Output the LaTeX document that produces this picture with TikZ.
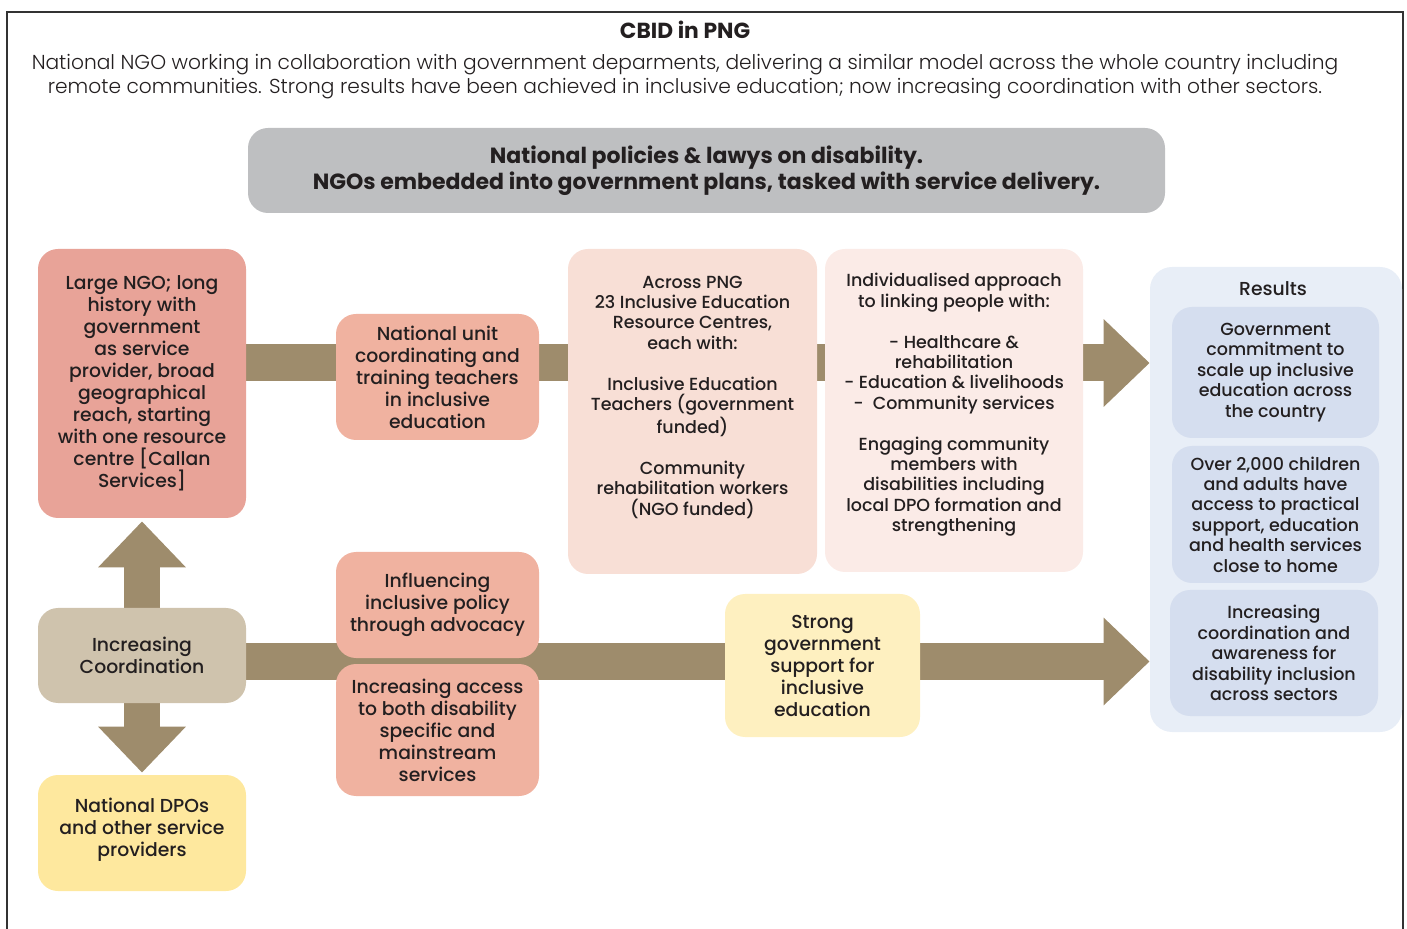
\documentclass[tikz,border=0pt]{standalone}
\usepackage{fontspec}
\setmainfont{Poppins}
\newfontface\lightface{Poppins Light}
\newfontface\mediumface{Poppins Medium}
\usetikzlibrary{arrows.meta,backgrounds,calc}
\definecolor{txt}{HTML}{231F20}
\definecolor{frame}{HTML}{333333}
\definecolor{barc}{HTML}{9E8C6C}
\definecolor{ngored}{HTML}{E8A398}
\definecolor{salmon}{HTML}{F0B2A0}
\definecolor{peach}{HTML}{F8DFD6}
\definecolor{blush}{HTML}{FBEBE7}
\definecolor{bannergrey}{HTML}{BEBFC1}
\definecolor{sand}{HTML}{CFC3AD}
\definecolor{dpoyellow}{HTML}{FEE89E}
\definecolor{paleyellow}{HTML}{FEF0C0}
\definecolor{resbg}{HTML}{E8EEF7}
\definecolor{resbox}{HTML}{D5DEEF}

\begin{document}
\begin{tikzpicture}[x=0.5pt,y=-0.5pt,
    box/.style={rounded corners=10pt, align=center, inner sep=2pt, text=txt,
        font=\mediumface\fontsize{9.4}{11}\selectfont},
    smallbox/.style={box, font=\mediumface\fontsize{8.75}{10.2}\selectfont},
    sz/.style 2 args={minimum width=#1, minimum height=#2},
    bar/.style={line width=18.5pt, draw=barc, -{Triangle[length=23pt,width=42.5pt]}}]
    \useasboundingbox (0,0) rectangle (1407,929);
    % frame and heading
    \draw [frame, line width=1pt] (7,940) -- (7,12) -- (1403,12) -- (1403,940);
    \node [text=txt, font=\bfseries\fontsize{10.9}{12}\selectfont] (title) at (685,30) {CBID in PNG};
    \node [text=txt, align=center, font=\lightface\fontsize{10.1}{12}\selectfont] (intro) at (685,77)
        {National NGO working in collaboration with government deparments, delivering a similar model across the whole country including\\
         remote communities. Strong results have been achieved in inclusive education; now increasing coordination with other sectors.};
    \node [box, fill=bannergrey, sz={458.5pt}{42.5pt}, font=\bfseries\fontsize{11}{13}\selectfont] (policy) at (706.5,170.5)
        {National policies \& lawys on disability.\\NGOs embedded into government plans, tasked with service delivery.};

    % top row
    \node [box, fill=ngored, sz={104pt}{134.5pt}] (ngo) at (142,383.5)
        {Large NGO; long\\history with\\government\\as service\\provider, broad\\geographical\\reach, starting\\with one resource\\centre [Callan\\Services]};
    \node [box, fill=salmon, sz={101.5pt}{63pt}] (unit) at (437.5,377)
        {National unit\\coordinating and\\training teachers\\in inclusive\\education};
    \node [smallbox, fill=peach, sz={124.5pt}{162.5pt}] (across) at (692.5,411.5)
        {Across PNG\\23 Inclusive Education\\Resource Centres,\\each with:\\[10.2pt]Inclusive Education\\Teachers (government\\funded)\\[10.2pt]Community\\rehabilitation workers\\(NGO funded)\\[5.8pt]\mbox{}};
    \node [smallbox, fill=blush, sz={129pt}{161.5pt}] (indiv) at (954,410.5)
        {Individualised approach\\to linking people with:\\[10.2pt]- Healthcare \&\\rehabilitation\\- Education \& livelihoods\\-~ Community services\\[10.2pt]Engaging community\\members with\\disabilities including\\local DPO formation and\\strengthening\\[-2.2pt]\mbox{}};

    % results column
    \node [rounded corners=11pt, fill=resbg, sz={126pt}{232.5pt}] (results) at (1276,499.5) {};
    \node [text=txt, font=\mediumface\fontsize{9.4}{11}\selectfont] (restitle) at (1273,289) {Results};
    \node [smallbox, fill=resbox, sz={103.5pt}{65.5pt}] (res1) at (1275.5,372.5)
        {Government\\commitment to\\scale up inclusive\\education across\\the country};
    \node [smallbox, fill=resbox, sz={103.5pt}{68.5pt}] (res2) at (1275.5,514.5)
        {Over 2,000 children\\and adults have\\access to practical\\support, education\\and health services\\close to home};
    \node [smallbox, fill=resbox, sz={104pt}{63pt}] (res3) at (1274,653)
        {Increasing\\coordination and\\awareness for\\disability inclusion\\across sectors};

    % bottom row
    \node [box, fill=sand, sz={104pt}{47.5pt}] (coord) at (142,655.5) {Increasing\\Coordination};
    \node [box, fill=dpoyellow, sz={104pt}{58pt}] (dpo) at (142,833)
        {National DPOs\\and other service\\providers\\[-5pt]\mbox{}};
    \node [box, fill=salmon, sz={101.5pt}{53pt}] (infl) at (437.5,605)
        {Influencing\\inclusive policy\\through advocacy};
    \node [box, fill=salmon, sz={101.5pt}{66pt}] (access) at (437.5,730)
        {Increasing access\\to both disability\\specific and\\mainstream\\services};
    \node [box, fill=paleyellow, sz={97.5pt}{71.5pt}] (strong) at (822.5,665.5)
        {Strong\\government\\support for\\inclusive\\education};

    % arrows behind the boxes
    \coordinate (topin) at (246,363);
    \coordinate (botin) at (246,661.5);
    \begin{scope}[on background layer]
        \draw [bar] (topin) -- (topin -| results.west);
        \draw [bar] (botin) -- (botin -| results.west);
        \draw [bar, line width=18pt, shorten >=1.5pt] (coord.north) -- (ngo.south);
        \draw [bar, line width=18pt, shorten >=1pt] (coord.south) -- (dpo.north);
    \end{scope}
\end{tikzpicture}
\end{document}
